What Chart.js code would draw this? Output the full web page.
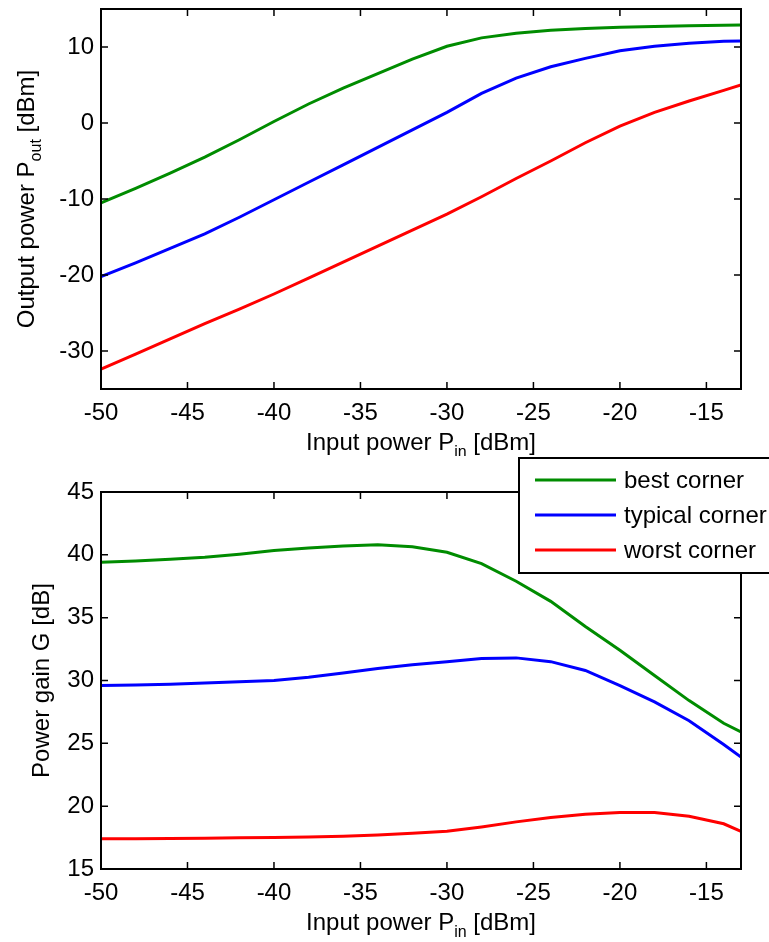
<!DOCTYPE html>
<html>
<head>
<meta charset="utf-8">
<script src="https://cdn.jsdelivr.net/npm/chart.js@4"></script>
<style>
  body { margin: 0; background: #fff; }
  canvas { position: absolute; left: 0; display: block; }
  #pout { top: 0; }
  #gain { top: 456px; }
</style>
</head>
<body>
<canvas id="pout" width="769" height="456"></canvas>
<canvas id="gain" width="769" height="486"></canvas>
<script>
// input power sweep [dBm]
const X_IN = [-50, -48, -46, -44, -42, -40, -38, -36, -34, -32, -30, -28, -26, -24, -22, -20, -18, -16, -14, -13];

// output power [dBm]
const POUT_BEST  = [-10.5, -8.6, -6.6, -4.5, -2.2, 0.2, 2.5, 4.6, 6.5, 8.4, 10.1, 11.2, 11.8, 12.2, 12.45, 12.6, 12.7, 12.8, 12.85, 12.9];
const POUT_TYP   = [-20.2, -18.4, -16.5, -14.6, -12.4, -10.1, -7.8, -5.5, -3.2, -0.9, 1.4, 3.9, 5.9, 7.4, 8.5, 9.5, 10.1, 10.5, 10.75, 10.8];
const POUT_WORST = [-32.4, -30.4, -28.4, -26.4, -24.5, -22.5, -20.4, -18.3, -16.2, -14.1, -12.0, -9.7, -7.3, -5.0, -2.6, -0.4, 1.4, 2.9, 4.3, 5.0];

// power gain [dB]
const GAIN_BEST  = [39.4, 39.5, 39.65, 39.8, 40.05, 40.35, 40.55, 40.7, 40.8, 40.65, 40.2, 39.3, 37.9, 36.3, 34.3, 32.4, 30.4, 28.4, 26.6, 25.9];
const GAIN_TYP   = [29.6, 29.65, 29.7, 29.8, 29.9, 30.0, 30.25, 30.6, 30.95, 31.25, 31.5, 31.75, 31.8, 31.5, 30.8, 29.6, 28.3, 26.8, 24.9, 23.9];
const GAIN_WORST = [17.4, 17.4, 17.42, 17.45, 17.48, 17.5, 17.55, 17.6, 17.7, 17.85, 18.0, 18.35, 18.75, 19.1, 19.35, 19.5, 19.5, 19.2, 18.6, 18.0];

const SERIES_NAMES = ["best corner", "typical corner", "worst corner"];
const SERIES_COLORS = ["#008c00", "#0000ff", "#ff0000"];

const X_TICKS = [-50, -45, -40, -35, -30, -25, -20, -15];
const POUT_TICKS = [-30, -20, -10, 0, 10];
const GAIN_TICKS = [15, 20, 25, 30, 35, 40, 45];

const FONT = '"Liberation Sans", Arial, Helvetica, sans-serif';
const FONT_SIZE = 24;
const SUB_SIZE = 16;

// draws text made of normal and subscript parts, centred on x
function drawParts(ctx, parts, x, y) {
  let total = 0;
  parts.forEach((p) => {
    ctx.font = (p.sub ? SUB_SIZE : FONT_SIZE) + "px " + FONT;
    p.w = ctx.measureText(p.t).width;
    total += p.w;
  });
  let cx = x - total / 2;
  ctx.textAlign = "left";
  ctx.textBaseline = "alphabetic";
  parts.forEach((p) => {
    ctx.font = (p.sub ? SUB_SIZE : FONT_SIZE) + "px " + FONT;
    ctx.fillText(p.t, cx, p.sub ? y + 7 : y);
    cx += p.w;
  });
}

const framePlugin = {
  id: "frame",
  afterDraw(chart, args, opts) {
    const { ctx, chartArea: a, scales } = chart;
    ctx.save();
    ctx.strokeStyle = "#000";
    ctx.fillStyle = "#000";
    ctx.lineWidth = 2;
    ctx.strokeRect(a.left, a.top, a.right - a.left, a.bottom - a.top);
    ctx.lineWidth = 1.5;
    ctx.beginPath();
    scales.x.ticks.forEach((t) => {
      const px = scales.x.getPixelForValue(t.value);
      ctx.moveTo(px, a.bottom); ctx.lineTo(px, a.bottom - 7);
      ctx.moveTo(px, a.top); ctx.lineTo(px, a.top + 7);
    });
    scales.y.ticks.forEach((t) => {
      const py = scales.y.getPixelForValue(t.value);
      ctx.moveTo(a.left, py); ctx.lineTo(a.left + 7, py);
      ctx.moveTo(a.right, py); ctx.lineTo(a.right - 7, py);
    });
    ctx.stroke();

    // axis titles
    drawParts(ctx, opts.xTitle, (a.left + a.right) / 2, opts.xTitleY);
    ctx.save();
    ctx.translate(opts.yTitleX, (a.top + a.bottom) / 2);
    ctx.rotate(-Math.PI / 2);
    drawParts(ctx, opts.yTitle, 0, 0);
    ctx.restore();

    // legend box (only on the gain chart)
    if (opts.legend) {
      const L = opts.legend;
      ctx.lineWidth = 2;
      ctx.fillStyle = "#fff";
      ctx.fillRect(L.x, L.y, L.w, L.h);
      ctx.strokeRect(L.x, L.y, L.w, L.h);
      ctx.font = FONT_SIZE + "px " + FONT;
      ctx.textBaseline = "middle";
      ctx.textAlign = "left";
      chart.data.datasets.forEach((ds, i) => {
        const ry = L.y + 22 + i * 35;
        ctx.strokeStyle = ds.borderColor;
        ctx.lineWidth = 3;
        ctx.beginPath();
        ctx.moveTo(L.x + 16, ry);
        ctx.lineTo(L.x + 97, ry);
        ctx.stroke();
        ctx.fillStyle = "#000";
        ctx.fillText(ds.label, L.x + 105, ry + 1);
      });
    }
    ctx.restore();
  },
};

function makeDatasets(seriesList) {
  return seriesList.map((ys, i) => ({
    label: SERIES_NAMES[i],
    data: X_IN.map((x, j) => ({ x: x, y: ys[j] })),
    borderColor: SERIES_COLORS[i],
    borderWidth: 3,
    pointRadius: 0,
    tension: 0,
    fill: false,
  }));
}

function makeChart(id, seriesList, yMin, yMax, yTicks, padTop, xHeight, frameOpts) {
  const tickFont = { family: FONT, size: FONT_SIZE };
  return new Chart(document.getElementById(id), {
    type: "line",
    data: { datasets: makeDatasets(seriesList) },
    options: {
      responsive: false,
      animation: false,
      devicePixelRatio: 1,
      layout: { padding: { left: 0, right: 28, top: padTop, bottom: 0 } },
      plugins: {
        legend: { display: false },
        tooltip: { enabled: false },
        frame: frameOpts,
      },
      scales: {
        x: {
          type: "linear",
          min: -50,
          max: -13,
          afterBuildTicks: (s) => { s.ticks = X_TICKS.map((v) => ({ value: v })); },
          afterFit: (s) => { s.height = xHeight; s.paddingLeft = 0; s.paddingRight = 0; },
          ticks: { font: tickFont, color: "#000", padding: 10, maxRotation: 0 },
          grid: { display: false, drawTicks: false },
          border: { display: false },
        },
        y: {
          type: "linear",
          min: yMin,
          max: yMax,
          afterBuildTicks: (s) => { s.ticks = yTicks.map((v) => ({ value: v })); },
          afterFit: (s) => { s.width = 101; s.paddingTop = 0; s.paddingBottom = 0; },
          ticks: { font: tickFont, color: "#000", padding: 7 },
          grid: { display: false, drawTicks: false },
          border: { display: false },
        },
      },
    },
    plugins: [framePlugin],
  });
}

makeChart("pout", [POUT_BEST, POUT_TYP, POUT_WORST], -35, 15, POUT_TICKS, 9, 67, {
  xTitle: [{ t: "Input power P" }, { t: "in", sub: true }, { t: " [dBm]" }],
  xTitleY: 450,
  yTitle: [{ t: "Output power P" }, { t: "out", sub: true }, { t: " [dBm]" }],
  yTitleX: 34,
});

makeChart("gain", [GAIN_BEST, GAIN_TYP, GAIN_WORST], 15, 45, GAIN_TICKS, 36, 73, {
  xTitle: [{ t: "Input power P" }, { t: "in", sub: true }, { t: " [dBm]" }],
  xTitleY: 474,
  yTitle: [{ t: "Power gain G [dB]" }],
  yTitleX: 49,
  legend: { x: 519, y: 2, w: 270, h: 115 },
});
</script>
</body>
</html>
